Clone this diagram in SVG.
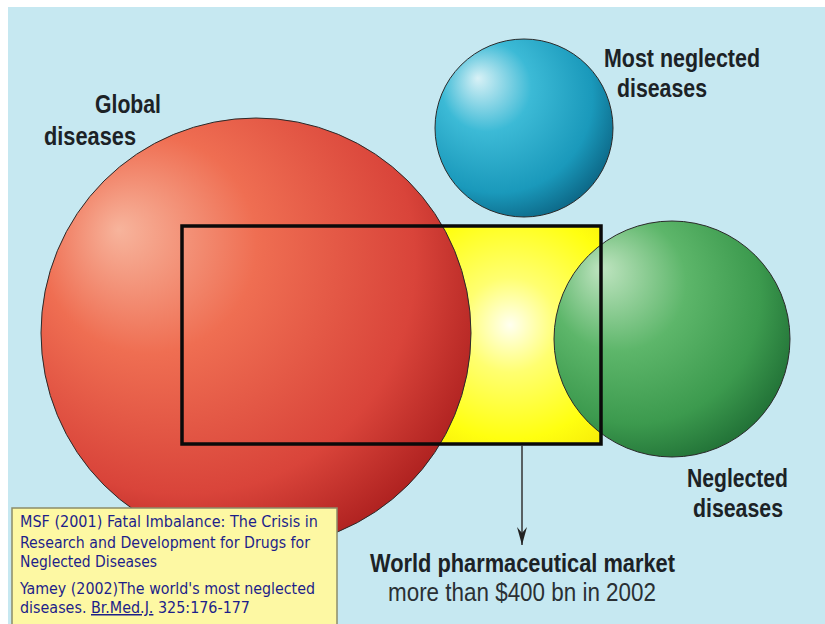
<svg xmlns="http://www.w3.org/2000/svg" width="825" height="624" viewBox="0 0 825 624">
  <style>
    .lbl { font-family: "Liberation Sans Narrow", "Liberation Sans", Arial, sans-serif; font-weight: bold; font-size: 26px; fill: #1c2226; }
    .sub { font-family: "Liberation Sans Narrow", "Liberation Sans", Arial, sans-serif; font-size: 25px; fill: #2a3034; }
    .ref { font-family: "DejaVu Sans Condensed", "Liberation Sans", Arial, sans-serif; font-size: 15px; fill: #1d1f8a; }
    .ball { stroke: #2a2a2a; stroke-width: 1; }
  </style>
  <defs>
    <radialGradient id="gRed" cx="0.38" cy="0.36" r="0.72" fx="0.18" fy="0.26">
      <stop offset="0" stop-color="#f7b49c"/>
      <stop offset="0.35" stop-color="#ef6e52"/>
      <stop offset="0.75" stop-color="#d9443a"/>
      <stop offset="1" stop-color="#a81c1c"/>
    </radialGradient>
    <radialGradient id="gBlue" cx="0.38" cy="0.36" r="0.72" fx="0.24" fy="0.22">
      <stop offset="0" stop-color="#d8f1f6"/>
      <stop offset="0.35" stop-color="#3cbad6"/>
      <stop offset="0.75" stop-color="#1a99bb"/>
      <stop offset="1" stop-color="#0a5f7e"/>
    </radialGradient>
    <radialGradient id="gGreen" cx="0.38" cy="0.36" r="0.72" fx="0.2" fy="0.2">
      <stop offset="0" stop-color="#bfe4c0"/>
      <stop offset="0.4" stop-color="#5db66a"/>
      <stop offset="0.75" stop-color="#3c9a4e"/>
      <stop offset="1" stop-color="#1d6b33"/>
    </radialGradient>
    <radialGradient id="gYellow" gradientUnits="userSpaceOnUse" cx="510" cy="325" r="190">
      <stop offset="0" stop-color="#fffff0"/>
      <stop offset="0.25" stop-color="#ffff70"/>
      <stop offset="0.6" stop-color="#ffff10"/>
      <stop offset="1" stop-color="#ecd600"/>
    </radialGradient>
    <marker id="arrowHead" markerWidth="20" markerHeight="10" refX="18" refY="5" orient="auto" markerUnits="userSpaceOnUse" viewBox="0 0 20 10">
      <path d="M0,0 L6,5 L0,10 L18,5 Z" fill="#222"/>
    </marker>
  </defs>

  <!-- page background -->
  <rect x="0" y="0" width="825" height="624" fill="#ffffff"/>
  <rect x="8" y="7" width="817" height="617" fill="#c6e8f1"/>

  <!-- market area fill -->
  <g id="market-fill">
    <rect x="182" y="226" width="419" height="218" fill="url(#gYellow)"/>
  </g>

  <g id="most-neglected">
    <circle class="ball" cx="524" cy="128" r="89" fill="url(#gBlue)"/>
  </g>

  <g id="global">
    <circle class="ball" cx="256" cy="333" r="215" fill="url(#gRed)"/>
  </g>

  <g id="neglected">
    <circle class="ball" cx="672" cy="339" r="118" fill="url(#gGreen)"/>
  </g>

  <!-- market frame -->
  <g id="market">
    <rect x="182" y="226" width="419" height="218" fill="none" stroke="#0a0a0a" stroke-width="3.5"/>
  </g>

  <g id="connectors">
    <line x1="522" y1="445" x2="522" y2="545" stroke="#333" stroke-width="1.5" marker-end="url(#arrowHead)"/>
  </g>

  <g id="labels">
    <text class="lbl" x="95" y="113" textLength="66" lengthAdjust="spacingAndGlyphs">Global</text>
    <text class="lbl" x="44" y="145" textLength="92" lengthAdjust="spacingAndGlyphs">diseases</text>
    <text class="lbl" x="604" y="67" textLength="156" lengthAdjust="spacingAndGlyphs">Most neglected</text>
    <text class="lbl" x="617" y="97" textLength="90" lengthAdjust="spacingAndGlyphs">diseases</text>
    <text class="lbl" x="687" y="487" textLength="101" lengthAdjust="spacingAndGlyphs">Neglected</text>
    <text class="lbl" x="693" y="517" textLength="90" lengthAdjust="spacingAndGlyphs">diseases</text>
    <text class="lbl" x="370" y="572" textLength="305" lengthAdjust="spacingAndGlyphs">World pharmaceutical market</text>
    <text class="sub" x="388" y="601" textLength="268" lengthAdjust="spacingAndGlyphs">more than $400 bn in 2002</text>
  </g>

  <g id="references">
    <rect x="12" y="508" width="325" height="120" fill="#fdf8a3" stroke="#8c8c6a" stroke-width="1.5"/>
    <text class="ref" x="20" y="527" textLength="298" lengthAdjust="spacingAndGlyphs">MSF (2001) Fatal Imbalance: The Crisis in</text>
    <text class="ref" x="20" y="548" textLength="290" lengthAdjust="spacingAndGlyphs">Research and Development for Drugs for</text>
    <text class="ref" x="20" y="567" textLength="137" lengthAdjust="spacingAndGlyphs">Neglected Diseases</text>
    <text class="ref" x="20" y="594" textLength="295" lengthAdjust="spacingAndGlyphs">Yamey (2002)The world's most neglected</text>
    <text class="ref" x="20" y="613" textLength="230" lengthAdjust="spacingAndGlyphs">diseases. <tspan text-decoration="underline">Br.Med.J.</tspan> 325:176-177</text>
  </g>
</svg>
